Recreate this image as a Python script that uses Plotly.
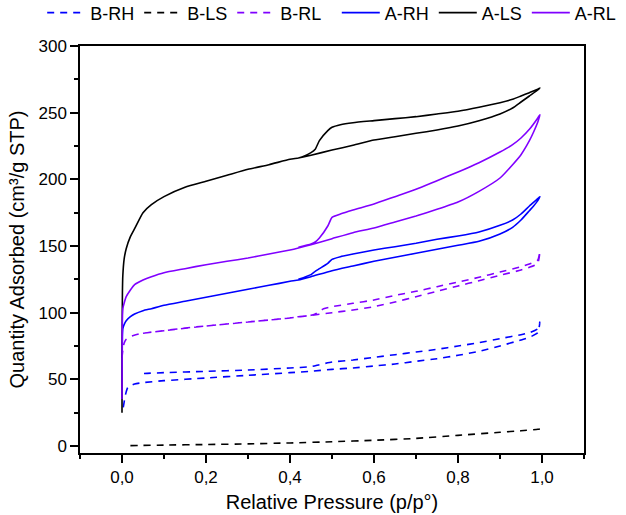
import plotly.graph_objects as go

# ---------------- data ----------------
# A-RH (blue solid)
ARH_ads_p = [0.0, 0.0005, 0.001, 0.002, 0.005, 0.01, 0.02, 0.03, 0.05, 0.07, 0.1, 0.15, 0.2, 0.25, 0.3, 0.35, 0.4, 0.42, 0.45, 0.5, 0.55, 0.6, 0.65, 0.7, 0.75, 0.8, 0.85, 0.9, 0.93, 0.95, 0.97, 0.98, 0.99, 0.995]
ARH_ads_v = [35, 70, 82, 88, 91, 94, 97, 99, 101.5, 103, 105.5, 108.5, 111.5, 114.5, 117.5, 120.5, 123.5, 124.5, 127, 131.5, 135, 138.5, 141.5, 144.5, 147.5, 150.5, 153.5, 159, 164, 169.5, 176.5, 180, 184, 187]
ARH_des_p = [0.99, 0.97, 0.95, 0.93, 0.9, 0.85, 0.8, 0.75, 0.7, 0.65, 0.6, 0.55, 0.52, 0.5, 0.49, 0.47, 0.46, 0.45, 0.42]
ARH_des_v = [185.5, 180, 174, 169.5, 165.5, 160.5, 157.5, 155, 152, 149.5, 147, 144, 142, 140, 137, 133, 131, 128.5, 125]

# A-LS (black solid)
ALS_ads_p = [0.0, 0.0005, 0.001, 0.002, 0.005, 0.01, 0.02, 0.03, 0.05, 0.07, 0.1, 0.15, 0.2, 0.25, 0.3, 0.35, 0.4, 0.42, 0.45, 0.5, 0.55, 0.6, 0.65, 0.7, 0.75, 0.8, 0.85, 0.9, 0.93, 0.95, 0.97, 0.99, 0.995]
ALS_ads_v = [25, 90, 115, 128, 140, 148, 157, 163, 175, 181, 187, 194, 198.5, 203, 207.5, 211, 215, 216, 218, 222, 225.5, 229.5, 232, 234.5, 237, 240, 244, 249, 253.5, 258, 262.5, 267, 268.5]
ALS_des_p = [0.99, 0.97, 0.95, 0.93, 0.9, 0.85, 0.8, 0.75, 0.7, 0.65, 0.6, 0.55, 0.52, 0.5, 0.49, 0.47, 0.46, 0.45, 0.43, 0.42]
ALS_des_v = [267.5, 265, 262.5, 260, 257.5, 254, 251, 249, 247, 245.5, 244, 242.5, 241, 239, 236.5, 229, 222.5, 220, 217, 216]

# A-RL (purple solid)
ARL_ads_p = [0.0, 0.0005, 0.001, 0.002, 0.005, 0.01, 0.02, 0.03, 0.05, 0.07, 0.1, 0.15, 0.2, 0.25, 0.3, 0.35, 0.4, 0.42, 0.45, 0.5, 0.55, 0.6, 0.65, 0.7, 0.75, 0.8, 0.85, 0.9, 0.93, 0.95, 0.97, 0.98, 0.99, 0.995]
ARL_ads_v = [35, 85, 98, 103, 107, 112, 117, 121, 124.5, 127, 130, 133, 136, 138.5, 141, 144, 147, 148.5, 151, 155.5, 160, 163.5, 168, 172.5, 177.5, 183, 191, 201, 211, 218.5, 229, 235.5, 243, 248.5]
ARL_des_p = [0.99, 0.97, 0.95, 0.93, 0.9, 0.85, 0.8, 0.75, 0.7, 0.65, 0.6, 0.55, 0.52, 0.5, 0.49, 0.47, 0.46, 0.45, 0.42]
ARL_des_v = [246, 237.5, 231, 226, 220.5, 212.5, 205.5, 199, 192.5, 187, 181.5, 177, 174, 171.5, 165, 156, 153, 151.5, 149]

# B-RH (blue dashed)
BRH_ads_p = [0.003, 0.008, 0.014, 0.03, 0.05, 0.1, 0.2, 0.3, 0.4, 0.45, 0.5, 0.55, 0.6, 0.65, 0.7, 0.75, 0.8, 0.85, 0.9, 0.95, 0.97, 0.99, 0.995]
BRH_ads_v = [29, 38, 44, 46.5, 47.5, 49, 51, 53, 55, 56, 57.5, 58.5, 60, 61.5, 63.5, 65.5, 68, 71, 75, 79.5, 81.5, 85, 93]
BRH_des_p = [0.99, 0.97, 0.95, 0.9, 0.85, 0.8, 0.75, 0.7, 0.65, 0.6, 0.55, 0.5, 0.47, 0.45, 0.4, 0.3, 0.2, 0.1, 0.06, 0.04]
BRH_des_v = [88, 85, 83.5, 80.5, 77.5, 75, 72.5, 70.5, 68.5, 66.5, 64.5, 63, 61, 59.5, 58.5, 57, 56, 55, 54.5, 54]

# B-LS (black dashed)
BLS_p = [0.02, 0.1, 0.2, 0.3, 0.4, 0.5, 0.6, 0.7, 0.8, 0.9, 0.95, 0.99, 0.995]
BLS_v = [0.3, 0.7, 1.1, 1.6, 2.3, 3.2, 4.3, 5.7, 8.0, 10.3, 11.4, 12.5, 12.8]

# B-RL (purple dashed)
BRL_ads_p = [0.0, 0.002, 0.005, 0.01, 0.02, 0.04, 0.06, 0.1, 0.15, 0.2, 0.25, 0.3, 0.35, 0.4, 0.45, 0.5, 0.55, 0.6, 0.65, 0.7, 0.75, 0.8, 0.85, 0.9, 0.95, 0.97, 0.99, 0.995]
BRL_ads_v = [66, 72, 77, 80, 82, 84, 85, 86.5, 88.5, 90, 91.5, 93, 94.5, 96, 98, 100, 102, 104.5, 108, 112, 116, 120, 124, 128, 132, 134, 137, 146]
BRL_des_p = [0.99, 0.97, 0.95, 0.9, 0.85, 0.8, 0.75, 0.7, 0.65, 0.6, 0.55, 0.5, 0.48, 0.46, 0.45, 0.42, 0.4, 0.3, 0.2, 0.1, 0.05]
BRL_des_v = [139.5, 136.5, 134.5, 130.5, 126.5, 123, 119.5, 116, 113, 109.5, 107, 104.5, 103, 99, 98, 97, 96, 93, 90, 86.5, 84.5]

names = ["B-RH", "B-LS", "B-RL", "A-RH", "A-LS", "A-RL"]
colors = ["#0000ff", "#000000", "#8000ff", "#0000ff", "#000000", "#8000ff"]
dashes = ["7px,6px", "7px,6px", "7px,6px", "solid", "solid", "solid"]
legend_ids = ["legend", "legend", "legend", "legend2", "legend2", "legend2"]

series = [
    (BRH_ads_p + BRH_des_p, BRH_ads_v + BRH_des_v),
    (BLS_p, BLS_v),
    (BRL_ads_p + BRL_des_p, BRL_ads_v + BRL_des_v),
    (ARH_ads_p + ARH_des_p, ARH_ads_v + ARH_des_v),
    (ALS_ads_p + ALS_des_p, ALS_ads_v + ALS_des_v),
    (ARL_ads_p + ARL_des_p, ARL_ads_v + ARL_des_v),
]

FONT = "Liberation Sans, Arial, sans-serif"

fig = go.Figure()
for (px, py), n, c, d, lg in zip(series, names, colors, dashes, legend_ids):
    fig.add_trace(go.Scatter(x=px, y=py, mode="lines", name=n, legend=lg,
                             line=dict(color=c, width=1.6, dash=d,
                                       shape="spline", smoothing=0.5)))

axis_common = dict(
    showline=True, linecolor="black", linewidth=1.5, mirror=True,
    ticks="outside", ticklen=8, tickwidth=1.5, tickcolor="black",
    showgrid=False, zeroline=False,
    tickfont=dict(family=FONT, size=17, color="black"),
)

legend_common = dict(orientation="h", xref="container", yref="container",
                     y=0.975, xanchor="left", yanchor="middle",
                     font=dict(family=FONT, size=18, color="black"),
                     itemwidth=38, tracegroupgap=0, bgcolor="rgba(0,0,0,0)")

fig.update_layout(
    width=626, height=515,
    margin=dict(l=80, r=42, t=46, b=62, autoexpand=False),
    plot_bgcolor="white", paper_bgcolor="white",
    separators=", ",
    font=dict(family=FONT, color="black"),
    showlegend=True,
    legend=dict(x=0.0674, **legend_common),
    legend2=dict(x=0.538, **legend_common),
    xaxis=dict(range=[-0.1, 1.1], tick0=0, dtick=0.2, tickformat=".1f",
               minor=dict(dtick=0.1, ticks="outside", ticklen=4, tickcolor="black", tickwidth=1.5),
               title=dict(text="Relative Pressure (p/p°)", font=dict(family=FONT, size=20, color="black"), standoff=9),
               **axis_common),
    yaxis=dict(range=[-5.25, 300], tick0=0, dtick=50,
               minor=dict(dtick=25, ticks="outside", ticklen=4, tickcolor="black", tickwidth=1.5),
               title=dict(text="Quantity Adsorbed (cm³/g STP)", font=dict(family=FONT, size=20, color="black"), standoff=8),
               **axis_common),
)

fig.write_html("out.html")
